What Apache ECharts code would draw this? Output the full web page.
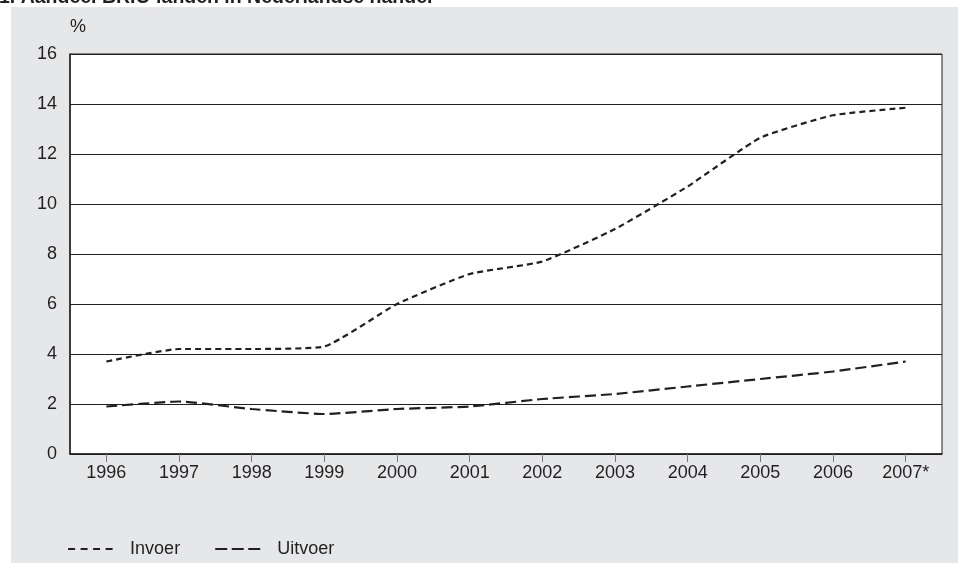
<!DOCTYPE html>
<html>
<head>
<meta charset="utf-8">
<script src="https://cdn.jsdelivr.net/npm/echarts@6/dist/echarts.min.js"></script>
<style>
html,body{margin:0;padding:0;background:#fff;}
#chart{width:958px;height:563px;}
</style>
</head>
<body>
<div id="chart"></div>
<script>
const categories = ['1996','1997','1998','1999','2000','2001','2002','2003','2004','2005','2006','2007*'];
const invoer = [3.7, 4.2, 4.2, 4.3, 6.0, 7.2, 7.7, 9.0, 10.7, 12.65, 13.55, 13.85];
const uitvoer = [1.9, 2.1, 1.8, 1.6, 1.8, 1.9, 2.2, 2.4, 2.7, 3.0, 3.3, 3.7];
const yTicks = { min: 0, max: 16, interval: 2 };
const titleText = '1. Aandeel BRIC-landen in Nederlandse handel';

const ink = '#231f20';
const font = 'Liberation Sans, Arial, sans-serif';

const chart = echarts.init(document.getElementById('chart'), null, {renderer: 'canvas'});
chart.setOption({
  backgroundColor: '#ffffff',
  animation: false,
  graphic: [
    { type: 'rect', z: -10, silent: true,
      shape: { x: 11, y: 7, width: 960, height: 570 },
      style: { fill: '#e6e7e8' } },
    { type: 'text', z: 10, silent: true, left: -1, top: -12,
      style: { text: titleText, font: 'bold 19.5px ' + font, fill: ink } }
  ],
  grid: {
    left: 70, top: 54, right: 16, bottom: 109,
    show: true, backgroundColor: '#ffffff', borderColor: ink, borderWidth: 1
  },
  legend: {
    left: 62, top: 535,
    itemWidth: 45, itemHeight: 14, itemGap: 34,
    itemStyle: { opacity: 0 },
    textStyle: { fontSize: 18, color: ink, fontFamily: font, padding: [0, 0, 0, 12] },
    data: [
      { name: 'Invoer', lineStyle: { type: [7, 5.5], width: 2.2, color: ink } },
      { name: 'Uitvoer', lineStyle: { type: [12, 4.5], width: 2.2, color: ink } }
    ]
  },
  xAxis: {
    type: 'category',
    data: categories,
    boundaryGap: true,
    axisLine: { show: true, lineStyle: { color: ink, width: 1.5 } },
    axisTick: { show: true, alignWithLabel: true, length: 8, lineStyle: { color: '#777' } },
    axisLabel: { fontSize: 18, color: ink, fontFamily: font, margin: 10 },
    splitLine: { show: false }
  },
  yAxis: {
    type: 'value',
    min: yTicks.min, max: yTicks.max, interval: yTicks.interval,
    name: '%',
    nameLocation: 'end',
    nameGap: 18,
    nameTextStyle: { fontSize: 18, color: ink, fontFamily: font, align: 'left' },
    axisLine: { show: true, lineStyle: { color: ink, width: 1.5 } },
    axisTick: { show: false },
    axisLabel: { fontSize: 18, color: ink, fontFamily: font, margin: 13 },
    splitLine: { show: true, lineStyle: { color: ink, width: 1 } }
  },
  series: [
    {
      name: 'Invoer', type: 'line', data: invoer,
      symbol: 'none', smooth: 0.15,
      lineStyle: { color: ink, width: 2.2, type: [6, 4] },
      itemStyle: { color: ink }
    },
    {
      name: 'Uitvoer', type: 'line', data: uitvoer,
      symbol: 'none', smooth: 0.15,
      lineStyle: { color: ink, width: 2.2, type: [11, 5] },
      itemStyle: { color: ink }
    }
  ]
});
</script>
</body>
</html>
